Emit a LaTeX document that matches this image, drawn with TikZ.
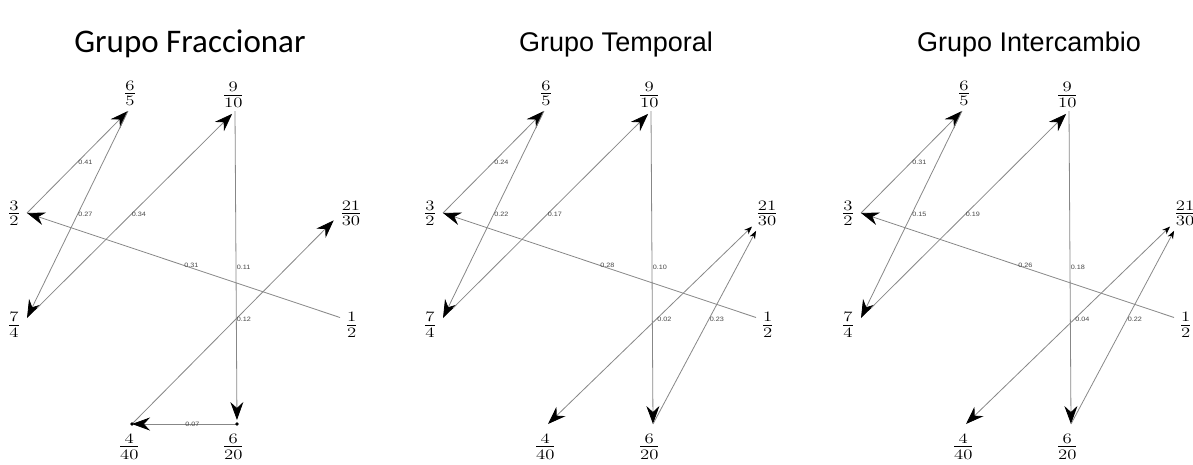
\documentclass[tikz,border=0pt]{standalone}
\usepackage{fontspec}
\usepackage{graphicx}
\usetikzlibrary{arrows.meta}
\newfontfamily\carlito{Carlito}
\newfontfamily\libsans{Liberation Sans}
\definecolor{edgec}{RGB}{135,135,135}
\definecolor{elab}{RGB}{70,70,70}
\newcommand\fr[2]{\scalebox{1.3}[1]{\fontsize{20.5}{22}\selectfont$\frac{#1}{#2}$}}
\newcommand\ew[1]{\scalebox{1.15}[1]{#1}}
\tikzset{
  edge/.style={draw=edgec, line width=0.8pt},
  arr/.style={edge, -{Stealth[length=18pt,width=13pt,inset=6pt,color=black]}},
  sarr/.style={edge, -{Stealth[length=8pt,width=6pt,inset=2.5pt,color=black]}},
  barr/.style={edge, {Stealth[length=8pt,width=6pt,inset=2.5pt,color=black]}-{Stealth[length=18pt,width=13pt,inset=6pt,color=black]}},
  wlab/.style={font=\libsans\fontsize{6.3}{7}\selectfont, text=elab, anchor=west, inner sep=0.5pt, pos=0.5},
  fracn/.style={inner sep=0pt},
  ttl/.style={anchor=base, inner sep=0pt}
}
\newcommand\octo[1]{%
  \coordinate (A) at (27,213);
  \coordinate (B) at (128,111);
  \coordinate (C) at (235,111);
  \coordinate (D) at (#1);
  \coordinate (E) at (340,317.5);
  \coordinate (F) at (237,424);
  \coordinate (G) at (132,424);
  \coordinate (H) at (27,318);
  \node[fracn] (LA) at (14,213.3) {\fr{3}{2}};
  \node[fracn] (LB) at (130,93.3) {\fr{6}{5}};
  \node[fracn] (LC) at (233.3,95) {\fr{9}{10}};
  \node[fracn] (LD) at (351,213.3) {\fr{21}{30}};
  \node[fracn] (LE) at (351.7,325) {\fr{1}{2}};
  \node[fracn] (LF) at (233.3,446.7) {\fr{6}{20}};
  \node[fracn] (LG) at (129.3,446.7) {\fr{4}{40}};
  \node[fracn] (LH) at (14,325) {\fr{7}{4}};
}
\begin{document}
\begin{tikzpicture}[x=1pt,y=-1pt]
\useasboundingbox (0,0) rectangle (1193,464);

% titles
\node[ttl] (t1) at (190,52) {\carlito\fontsize{33}{36}\selectfont Grupo Fraccionar};
\node[ttl] (t2) at (616,51) {\libsans\fontsize{27}{30}\selectfont Grupo Temporal};
\node[ttl] (t3) at (1029,51) {\libsans\fontsize{27}{30}\selectfont Grupo Intercambio};

% panel 1
\begin{scope}[name prefix=p-]
  \octo{340,214}
  \draw[arr] (A) -- (B) node[wlab] (e1) {\ew{0.41}};
  \draw[arr] (B) -- (H) node[wlab] (e2) {\ew{0.27}};
  \draw[arr, shorten <=14pt, shorten >=4pt] (H) -- (C) node[wlab] (e3) {\ew{0.34}};
  \draw[arr] (E) -- (A) node[wlab] (e4) {\ew{0.31}};
  \draw[arr, shorten >=4pt] (C) -- (F) node[wlab] (e5) {\ew{0.11}};
  \draw[arr, shorten >=9pt] (G) -- (D) node[wlab] (e6) {\ew{0.12}};
  \draw[arr] (F) -- (G) node[wlab] (e7) {\ew{0.07}};
  \fill (F) circle (1.8pt);
  \fill (G) circle (1.8pt);
\end{scope}

% panel 2
\begin{scope}[xshift=416pt, name prefix=q-]
  \octo{349,214}
  \draw[arr] (A) -- (B) node[wlab] (e1) {\ew{0.24}};
  \draw[arr] (B) -- (H) node[wlab] (e2) {\ew{0.22}};
  \draw[arr, shorten <=14pt, shorten >=4pt] (H) -- (C) node[wlab] (e3) {\ew{0.17}};
  \draw[arr] (E) -- (A) node[wlab] (e4) {\ew{0.28}};
  \draw[arr] (C) -- (F) node[wlab] (e5) {\ew{0.10}};
  \draw[barr, shorten <=18pt] (D) -- (G) node[wlab] (e6) {\ew{0.02}};
  \draw[sarr, shorten >=19pt] (F) -- (D) node[wlab] (e7) {\ew{0.23}};
\end{scope}

% panel 3
\begin{scope}[xshift=834pt, name prefix=r-]
  \octo{349,214}
  \draw[arr] (A) -- (B) node[wlab] (e1) {\ew{0.31}};
  \draw[arr] (B) -- (H) node[wlab] (e2) {\ew{0.15}};
  \draw[arr, shorten <=14pt, shorten >=4pt] (H) -- (C) node[wlab] (e3) {\ew{0.19}};
  \draw[arr] (E) -- (A) node[wlab] (e4) {\ew{0.26}};
  \draw[arr] (C) -- (F) node[wlab] (e5) {\ew{0.18}};
  \draw[barr, shorten <=18pt] (D) -- (G) node[wlab] (e6) {\ew{0.04}};
  \draw[sarr, shorten >=19pt] (F) -- (D) node[wlab] (e7) {\ew{0.22}};
\end{scope}
\end{tikzpicture}
\end{document}
